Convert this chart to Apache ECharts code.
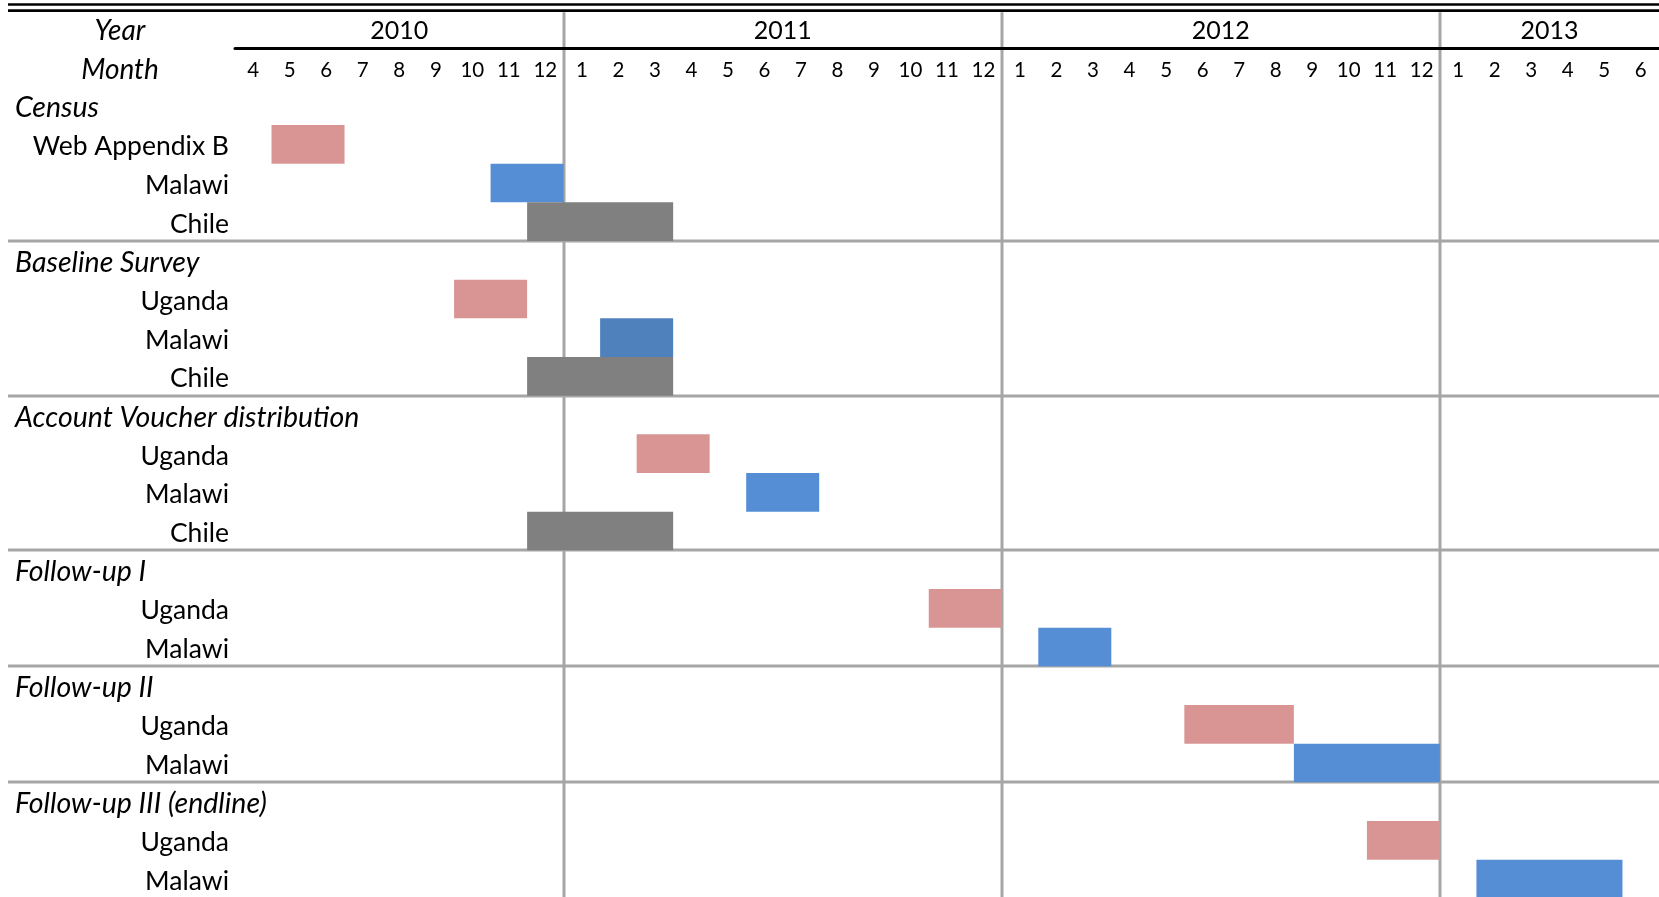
<!DOCTYPE html>
<html>
<head>
<meta charset="utf-8">
<script src="https://cdn.jsdelivr.net/npm/echarts@6/dist/echarts.min.js"></script>
<style>
  html, body { margin: 0; padding: 0; background: #fff; }
  #chart { width: 1659px; height: 897px; }
</style>
</head>
<body>
<div id="chart"></div>
<script>
// months shown on the time axis (Apr 2010 - Jun 2013)
const monthKeys = [
    '2010-04', '2010-05', '2010-06', '2010-07', '2010-08', '2010-09', '2010-10', '2010-11', '2010-12',
    '2011-01', '2011-02', '2011-03', '2011-04', '2011-05', '2011-06', '2011-07', '2011-08', '2011-09', '2011-10', '2011-11', '2011-12',
    '2012-01', '2012-02', '2012-03', '2012-04', '2012-05', '2012-06', '2012-07', '2012-08', '2012-09', '2012-10', '2012-11', '2012-12',
    '2013-01', '2013-02', '2013-03', '2013-04', '2013-05', '2013-06'
];
const years = ['2010', '2011', '2012', '2013'];

// rows of the table, top to bottom
const rowLabels = [
    'Census', 'Web Appendix B', 'Malawi', 'Chile',
    'Baseline Survey', 'Uganda', 'Malawi', 'Chile',
    'Account Voucher distribution', 'Uganda', 'Malawi', 'Chile',
    'Follow-up I', 'Uganda', 'Malawi',
    'Follow-up II', 'Uganda', 'Malawi',
    'Follow-up III (endline)', 'Uganda', 'Malawi'
];
const headerRows = [0, 4, 8, 12, 15, 18];

// activity bars: row, first month, last month, colour
const taskRow   = [1, 2, 3, 5, 6, 7, 9, 10, 11, 13, 14, 16, 17, 19, 20];
const taskStart = ['2010-05', '2010-11', '2010-12', '2010-10', '2011-02', '2010-12', '2011-03', '2011-06', '2010-12',
                   '2011-11', '2012-02', '2012-06', '2012-09', '2012-11', '2013-02'];
const taskEnd   = ['2010-06', '2010-12', '2011-03', '2010-11', '2011-03', '2011-03', '2011-04', '2011-07', '2011-03',
                   '2011-12', '2012-03', '2012-08', '2012-12', '2012-12', '2013-05'];
const taskColor = ['pink', 'blue', 'gray', 'pink', 'darkblue', 'gray', 'pink', 'blue', 'gray',
                   'pink', 'blue', 'pink', 'blue', 'pink', 'blue'];

const palette = { pink: '#d99594', blue: '#558ed5', darkblue: '#4f81bd', gray: '#808080' };
const lineGray = '#a6a6a6';
const font = 'Lato';

const gridLeft = 235, gridTop = 86.3, rowH = 38.67;

const mIdx = k => monthKeys.indexOf(k);

// year label position = middle of the months of that year
function yearMid(y) {
    const idx = monthKeys.map((k, i) => k.slice(0, 4) === y ? i : -1).filter(i => i >= 0);
    return (idx[0] + idx[idx.length - 1] + 1) / 2;
}
const yearMids = years.map(yearMid);
const yearStarts = years.slice(1).map(y => mIdx(y + '-01'));

const chart = echarts.init(document.getElementById('chart'));

function renderBar(params, api) {
    const row = api.value(0);
    const a = api.coord([api.value(1), row]);
    const b = api.coord([api.value(2), row]);
    const size = api.size([1, 1]);
    const x0 = a[0] - size[0] / 2;
    const x1 = b[0] + size[0] / 2;
    return {
        type: 'rect',
        shape: { x: x0, y: a[1] - size[1] / 2, width: x1 - x0, height: size[1] },
        style: { fill: palette[taskColor[params.dataIndex]] }
    };
}

function renderYearLine(params, api) {
    const p = api.coord([api.value(0), 0]);
    const size = api.size([1, 1]);
    const x = Math.round(p[0] - size[0] / 2);
    const cs = params.coordSys;
    return {
        type: 'line',
        shape: { x1: x, y1: cs.y - 74, x2: x, y2: cs.y + cs.height },
        style: { stroke: lineGray, lineWidth: 3 }
    };
}

function renderSeparator(params, api) {
    const p = api.coord([0, api.value(1)]);
    const size = api.size([1, 1]);
    const y = Math.round(p[1] - size[1] / 2);
    const cs = params.coordSys;
    return {
        type: 'line',
        shape: { x1: 8, y1: y, x2: cs.x + cs.width, y2: y },
        style: { stroke: lineGray, lineWidth: 3 }
    };
}

const headStyle = { fontFamily: font, fontSize: 28, fontStyle: 'italic', fill: '#000',
                    textAlign: 'center', textVerticalAlign: 'middle' };

const option = {
    backgroundColor: '#fff',
    animation: false,
    textStyle: { fontFamily: font, color: '#000' },
    graphic: [
        { type: 'rect', shape: { x: 8, y: 3.2, width: 1651, height: 2.6 }, style: { fill: '#000' } },
        { type: 'rect', shape: { x: 8, y: 9.2, width: 1651, height: 2.8 }, style: { fill: '#000' } },
        { type: 'text', x: 120, y: 31, style: Object.assign({ text: 'Year' }, headStyle) },
        { type: 'text', x: 120, y: 70, style: Object.assign({ text: 'Month' }, headStyle) }
    ],
    grid: { left: gridLeft, top: gridTop, width: 1424, height: rowH * rowLabels.length, outerBoundsMode: 'none', containLabel: false },
    xAxis: [
        {
            type: 'category',
            position: 'top',
            data: monthKeys,
            boundaryGap: true,
            axisLine: { show: false },
            axisTick: { show: false },
            splitLine: { show: false },
            axisLabel: {
                interval: 0, margin: 16, verticalAlign: 'middle',
                fontFamily: font, fontSize: 20.5, color: '#000',
                formatter: v => String(Number(v.slice(5)))
            }
        },
        {
            type: 'value',
            position: 'top',
            offset: 38,
            min: 0,
            max: monthKeys.length,
            interval: 0.5,
            axisLine: { show: true, lineStyle: { color: '#000', width: 3 } },
            axisTick: { show: false },
            splitLine: { show: false },
            z: 5,
            axisLabel: {
                margin: 17, verticalAlign: 'middle',
                fontFamily: font, fontSize: 25, color: '#000',
                showMinLabel: true, showMaxLabel: true,
                formatter: v => {
                    const i = yearMids.indexOf(v);
                    return i >= 0 ? years[i] : '';
                }
            }
        }
    ],
    yAxis: [
        {
            type: 'category',
            inverse: true,
            data: rowLabels.map((_, i) => 'r' + i),
            axisLine: { show: false },
            axisTick: { show: false },
            splitLine: { show: false },
            axisLabel: {
                interval: 0, margin: 6, align: 'right',
                formatter: (v, i) => headerRows.includes(i) ? '' : '{a|' + rowLabels[i] + '}',
                rich: {
                    a: { fontFamily: font, fontSize: 26.5, color: '#000', padding: [5, 0, 0, 0] }
                }
            }
        },
        {
            type: 'category',
            position: 'left',
            inverse: true,
            data: rowLabels.map((_, i) => 'r' + i),
            axisLine: { show: false },
            axisTick: { show: false },
            splitLine: { show: false },
            axisLabel: {
                interval: 0, margin: 220, align: 'left',
                formatter: (v, i) => headerRows.includes(i) ? '{h|' + rowLabels[i] + '}' : '',
                rich: {
                    h: { fontFamily: font, fontSize: 28.5, fontStyle: 'italic', color: '#000', padding: [5, 0, 0, 0] }
                }
            }
        }
    ],
    series: [
        {
            type: 'custom',
            name: 'years',
            xAxisIndex: 0, yAxisIndex: 0,
            clip: false,
            z: 1,
            silent: true,
            encode: { x: 0, y: 1 },
            data: yearStarts.map(i => [i, 0]),
            renderItem: renderYearLine
        },
        {
            type: 'custom',
            name: 'sections',
            xAxisIndex: 0, yAxisIndex: 0,
            clip: false,
            z: 1,
            silent: true,
            encode: { x: 0, y: 1 },
            data: headerRows.slice(1).map(r => [0, r]),
            renderItem: renderSeparator
        },
        {
            type: 'custom',
            name: 'tasks',
            xAxisIndex: 0, yAxisIndex: 0,
            z: 3,
            encode: { x: [1, 2], y: 0 },
            data: taskRow.map((r, i) => [r, mIdx(taskStart[i]), mIdx(taskEnd[i])]),
            renderItem: renderBar
        }
    ]
};

chart.setOption(option);
</script>
</body>
</html>
